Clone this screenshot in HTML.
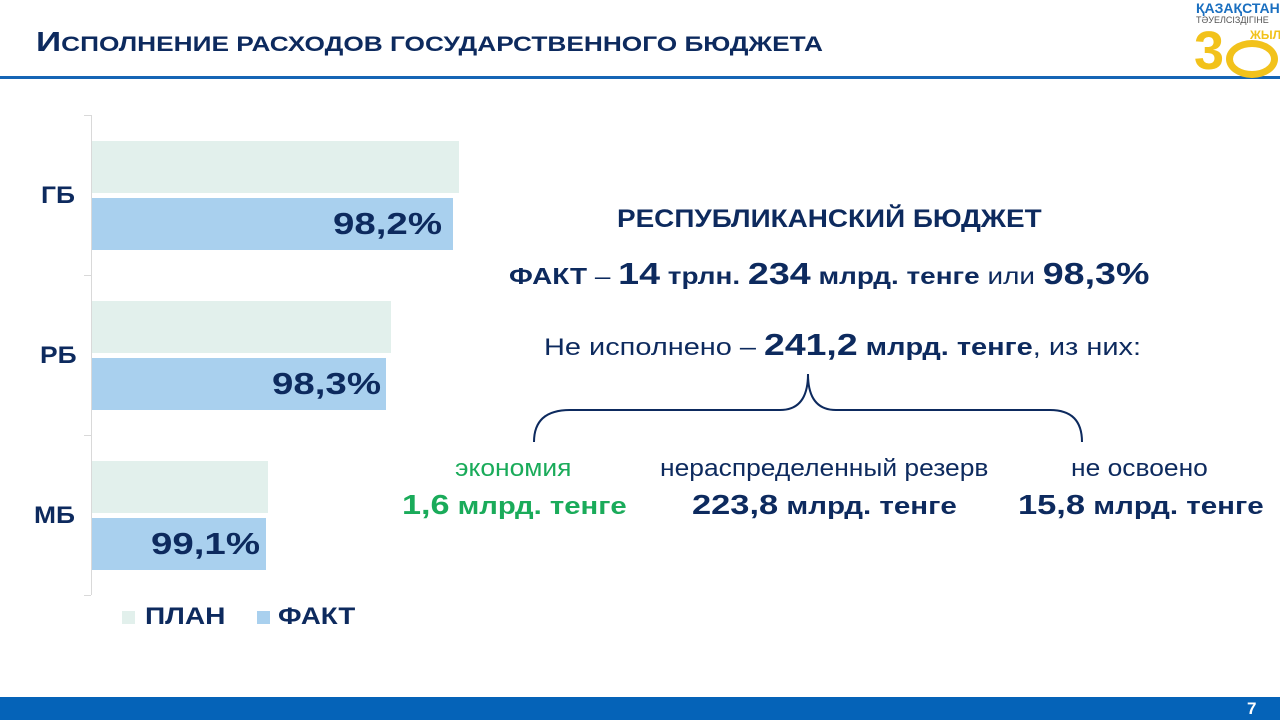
<!DOCTYPE html><html><head><meta charset="utf-8"><style>
body{margin:0;width:1280px;height:720px;position:relative;background:#fff;font-family:"Liberation Sans",sans-serif;overflow:hidden;color:#0d2a5e}
.a{position:absolute}
.b{font-weight:bold}
.c{white-space:nowrap;transform-origin:0 0}
</style></head><body>
<div class="a b c" style="left:36px;top:26px;font-size:21px;color:#0d2a5e;transform:scaleX(1.25)"><span style="font-size:28px">И</span>СПОЛНЕНИЕ РАСХОДОВ ГОСУДАРСТВЕННОГО БЮДЖЕТА</div>
<div class="a" style="left:0;top:76px;width:1280px;height:3px;background:#1565b5"></div>
<div class="a b c" style="left:1196px;top:0;font-size:14px;color:#1a6fc0">ҚАЗАҚСТАН</div>
<div class="a c" style="left:1196px;top:15px;font-size:9px;color:#555">ТӘУЕЛСІЗДІГІНЕ</div>
<div class="a b c" style="left:1194px;top:24px;font-size:54px;color:#f2c21b;line-height:54px">3</div>
<div class="a" style="left:1226px;top:40px;width:38px;height:24px;border:7px solid #f2c21b;border-radius:50%"></div>
<div class="a b c" style="left:1250px;top:28px;font-size:12px;color:#f2c21b">ЖЫЛ</div>
<!-- axis -->
<div class="a" style="left:91px;top:115px;width:1px;height:480px;background:#d9d9d9"></div>
<div class="a" style="left:84px;top:115px;width:7px;height:1px;background:#d9d9d9"></div>
<div class="a" style="left:84px;top:275px;width:7px;height:1px;background:#d9d9d9"></div>
<div class="a" style="left:84px;top:435px;width:7px;height:1px;background:#d9d9d9"></div>
<div class="a" style="left:84px;top:595px;width:7px;height:1px;background:#d9d9d9"></div>
<div class="a" style="left:92px;top:141px;width:367px;height:52px;background:#e2f0ec"></div>
<div class="a" style="left:92px;top:198px;width:361px;height:52px;background:#a9d0ee"></div>
<div class="a" style="left:92px;top:301px;width:299px;height:52px;background:#e2f0ec"></div>
<div class="a" style="left:92px;top:358px;width:294px;height:52px;background:#a9d0ee"></div>
<div class="a" style="left:92px;top:461px;width:176px;height:52px;background:#e2f0ec"></div>
<div class="a" style="left:92px;top:518px;width:174px;height:52px;background:#a9d0ee"></div>
<div class="a b c" style="left:333px;top:206px;font-size:31px;transform:scaleX(1.24)">98,2%</div>
<div class="a b c" style="left:272px;top:366px;font-size:31px;transform:scaleX(1.24)">98,3%</div>
<div class="a b c" style="left:151px;top:526px;font-size:31px;transform:scaleX(1.24)">99,1%</div>
<div class="a b c" style="left:41px;top:182px;font-size:24px;transform:scaleX(1.1)">ГБ</div>
<div class="a b c" style="left:40px;top:342px;font-size:24px;transform:scaleX(1.1)">РБ</div>
<div class="a b c" style="left:34px;top:502px;font-size:24px;transform:scaleX(1.1)">МБ</div>
<div class="a" style="left:122px;top:611px;width:13px;height:13px;background:#e2f0ec"></div>
<div class="a b c" style="left:145px;top:603px;font-size:24px;transform:scaleX(1.17)">ПЛАН</div>
<div class="a" style="left:257px;top:611px;width:13px;height:13px;background:#a9d0ee"></div>
<div class="a b c" style="left:278px;top:603px;font-size:24px;transform:scaleX(1.15)">ФАКТ</div>
<!-- right -->
<div class="a b c" style="left:617px;top:205px;font-size:25px;transform:scaleX(1.115)">РЕСПУБЛИКАНСКИЙ БЮДЖЕТ</div>
<div class="a b c" style="left:509px;top:254px;font-size:23px;line-height:40px;transform:scaleX(1.214)">ФАКТ <span style="font-weight:normal">–</span> <span style="font-size:31px">14</span> трлн. <span style="font-size:31px">234</span> млрд. тенге <span style="font-weight:normal">или</span> <span style="font-size:31px">98,3%</span></div>
<div class="a c" style="left:544px;top:325px;font-size:24px;line-height:40px;transform:scaleX(1.206)">Не исполнено – <b style="font-size:31px">241,2</b> <b>млрд. тенге</b>, из них:</div>
<svg class="a" style="left:530px;top:370px" width="560" height="80"><path d="M4 72 Q4 40 40 40 L250 40 Q278 40 278 4 Q278 40 306 40 L520 40 Q552 40 552 72" fill="none" stroke="#0d2a5e" stroke-width="2"/></svg>
<div class="a c" style="left:455px;top:455px;font-size:24px;color:#1aab5a;transform:scaleX(1.1)">экономия</div>
<div class="a b c" style="left:402px;top:487px;font-size:24px;color:#1aab5a;line-height:36px;transform:scaleX(1.22)"><span style="font-size:28px">1,6</span> млрд. тенге</div>
<div class="a c" style="left:660px;top:455px;font-size:24px;transform:scaleX(1.1)">нераспределенный резерв</div>
<div class="a b c" style="left:692px;top:487px;font-size:24px;line-height:36px;transform:scaleX(1.23)"><span style="font-size:28px">223,8</span> млрд. тенге</div>
<div class="a c" style="left:1071px;top:455px;font-size:24px;transform:scaleX(1.1)">не освоено</div>
<div class="a b c" style="left:1018px;top:487px;font-size:24px;line-height:36px;transform:scaleX(1.23)"><span style="font-size:28px">15,8</span> млрд. тенге</div>
<div class="a" style="left:0;top:697px;width:1280px;height:23px;background:#0563b8"></div>
<div class="a b" style="left:1247px;top:699px;font-size:17px;color:#fff">7</div>
</body></html>
